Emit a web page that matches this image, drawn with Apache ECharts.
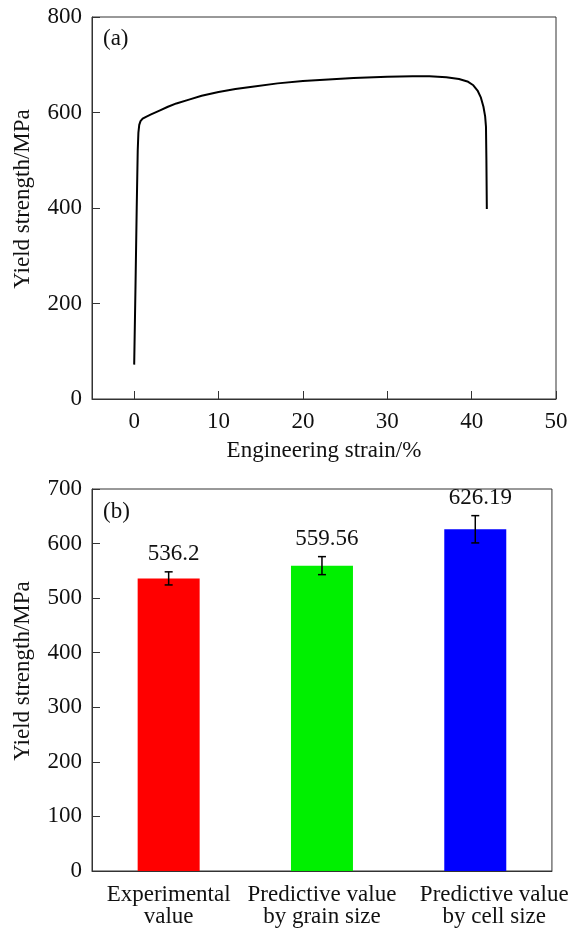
<!DOCTYPE html>
<html>
<head>
<meta charset="utf-8">
<script src="https://cdn.jsdelivr.net/npm/echarts@6/dist/echarts.min.js"></script>
<style>html,body{margin:0;padding:0;background:#fff}#c{width:571px;height:929px}</style>
</head>
<body>
<div id="c"></div>
<script>
// (a) engineering stress-strain curve
const strain = [0, 0.15, 0.3, 0.42, 0.5, 0.6, 0.75, 1.0, 1.4, 2.0, 3, 4, 5, 6.5, 8, 10, 12, 14, 17, 20, 23, 26, 30, 33, 35, 37, 38.5, 39.5, 40.2, 40.7, 41.1, 41.4, 41.6, 41.7, 41.75, 41.8];
const stress = [72, 230, 400, 520, 558, 574, 582, 587, 591, 596, 604, 612, 619, 627, 635, 643, 649, 654, 661, 666, 669, 672, 675, 676, 676, 674, 670, 665, 657, 646, 631, 612, 592, 570, 500, 398];
const xTicksA = [0, 10, 20, 30, 40, 50];
const yTicksA = [0, 200, 400, 600, 800];

// (b) yield strength comparison
const categories = ['Experimental\nvalue', 'Predictive value\nby grain size', 'Predictive value\nby cell size'];
const values = [536.2, 559.56, 626.19];
const errors = [12, 16.5, 25];
const labels = ['536.2', '559.56', '626.19'];
const barColors = ['#ff0000', '#00f000', '#0000ff'];

const FONT = 'Liberation Serif';
const TXT = '#111';
const LINE = '#333';

const chart = echarts.init(document.getElementById('c'));
const curve = strain.map((s, i) => [s, stress[i]]);

const yAxisCommon = {
  nameLocation: 'middle', nameGap: 58,
  nameTextStyle: { fontFamily: FONT, fontSize: 23, color: TXT, padding: [0, 0, 0, 18] },
  axisLine: { show: true, onZero: false, lineStyle: { color: LINE } },
  axisTick: { show: true, inside: true, length: 8, lineStyle: { color: LINE } },
  axisLabel: { fontFamily: FONT, fontSize: 23, color: TXT, margin: 10 },
  splitLine: { show: false }
};

chart.setOption({
  animation: false,
  textStyle: { fontFamily: FONT, color: TXT },
  grid: [
    { left: 92, right: 15, top: 17, height: 382, show: true, borderColor: LINE, borderWidth: 1, containLabel: false },
    { left: 92, right: 15, top: 489, height: 382, show: true, borderColor: LINE, borderWidth: 1, containLabel: false }
  ],
  xAxis: [
    {
      type: 'value', gridIndex: 0, min: -5, max: xTicksA[xTicksA.length - 1], splitNumber: 5,
      name: 'Engineering strain/%', nameLocation: 'middle', nameGap: 40,
      nameTextStyle: { fontFamily: FONT, fontSize: 23, color: TXT },
      axisLine: { show: true, onZero: false, lineStyle: { color: LINE } },
      axisTick: { show: true, inside: true, length: 8, lineStyle: { color: LINE } },
      axisLabel: { fontFamily: FONT, fontSize: 23, color: TXT, margin: 11, showMinLabel: false,
        formatter: v => (xTicksA.indexOf(v) >= 0 ? String(v) : '') },
      splitLine: { show: false }
    },
    {
      type: 'category', gridIndex: 1,
      data: categories.map((c, i) => i === 2 ? { value: c, textStyle: { padding: [0, 0, 0, 38] } } : c),
      boundaryGap: true,
      axisLine: { show: true, onZero: false, lineStyle: { color: LINE } },
      axisTick: { show: false },
      axisLabel: { interval: 0, fontFamily: FONT, fontSize: 23, color: TXT, margin: 13, lineHeight: 22 },
      splitLine: { show: false }
    }
  ],
  yAxis: [
    Object.assign({}, yAxisCommon, {
      type: 'value', gridIndex: 0, min: yTicksA[0], max: yTicksA[yTicksA.length - 1], interval: 200,
      name: 'Yield strength/MPa'
    }),
    Object.assign({}, yAxisCommon, {
      type: 'value', gridIndex: 1, min: 0, max: 700, interval: 100,
      name: 'Yield strength/MPa'
    })
  ],
  series: [
    {
      type: 'line', xAxisIndex: 0, yAxisIndex: 0, data: curve, showSymbol: false, symbol: 'none',
      smooth: false, lineStyle: { color: '#000', width: 2 }
    },
    {
      type: 'bar', xAxisIndex: 1, yAxisIndex: 1, barWidth: 62,
      data: values.map((v, i) => ({ value: v, itemStyle: { color: barColors[i] } }))
    },
    {
      type: 'custom', xAxisIndex: 1, yAxisIndex: 1, z: 5,
      data: values.map((v, i) => [i, v, errors[i]]),
      renderItem: function (params, api) {
        const i = api.value(0), v = api.value(1), e = api.value(2);
        const top = api.coord([i, v + e]);
        const bot = api.coord([i, v - e]);
        const cw = 4;
        const st = { stroke: '#000', lineWidth: 1.5 };
        return {
          type: 'group',
          children: [
            { type: 'line', shape: { x1: top[0], y1: top[1], x2: bot[0], y2: bot[1] }, style: st },
            { type: 'line', shape: { x1: top[0] - cw, y1: top[1], x2: top[0] + cw, y2: top[1] }, style: st },
            { type: 'line', shape: { x1: bot[0] - cw, y1: bot[1], x2: bot[0] + cw, y2: bot[1] }, style: st },
            { type: 'text', x: top[0] + 5, y: top[1] - 6,
              style: { text: labels[params.dataIndex], fontFamily: FONT, fontSize: 23, fill: TXT, align: 'center', verticalAlign: 'bottom' } }
          ]
        };
      }
    }
  ],
  graphic: [
    { type: 'text', left: 103, top: 27, style: { text: '(a)', fontFamily: FONT, fontSize: 23, fill: TXT } },
    { type: 'text', left: 103, top: 500, style: { text: '(b)', fontFamily: FONT, fontSize: 23, fill: TXT } }
  ]
});
</script>
</body>
</html>
